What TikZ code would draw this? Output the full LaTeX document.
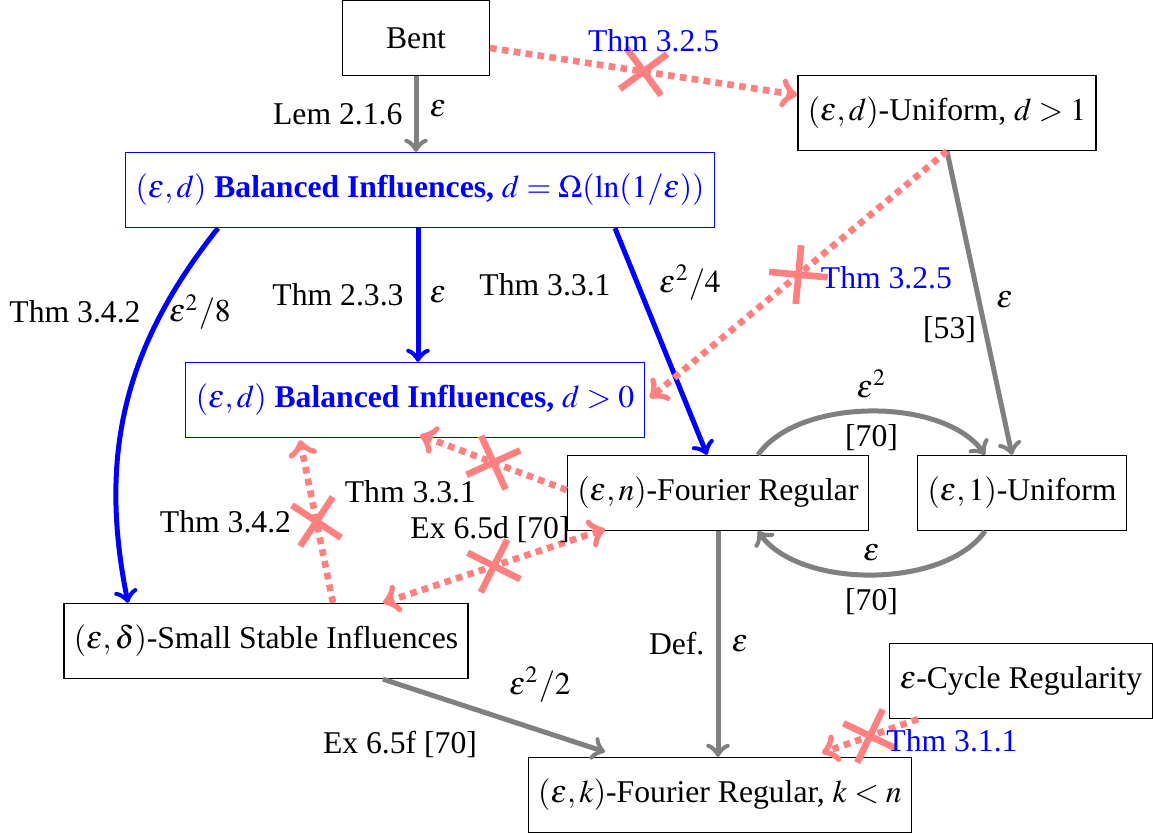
\documentclass[tikz,border=0pt]{standalone}
\usepackage{amsmath}
\usepackage{mathptmx}
\usepackage{fontspec}
\setmainfont{Liberation Serif}
\usepackage{tikz}
\usetikzlibrary{calc,shapes.misc}
\definecolor{lightred}{rgb}{1,0.5,0.5}

\begin{document}
\begin{tikzpicture}[x=0.3pt,y=0.3pt, font=\fontsize{9.5}{11}\selectfont,
  box/.style={draw, minimum height=22.5pt, inner xsep=3pt},
  bbox/.style={box, draw=blue, text=blue},
  imp/.style={->, line width=1.5pt, gray, every node/.style={text=black}},
  bimp/.style={->, line width=1.5pt, blue, every node/.style={text=black}},
  noimp/.style={->, line width=2pt, lightred, dash pattern=on 2pt off 1.6pt, every node/.style={text=black}},
  xmark/.style={cross out, draw=lightred, solid, line width=2pt, minimum size=10.5pt, inner sep=0pt, sloped}]
\useasboundingbox (0,0) rectangle (1153,-834);
% the boxes
\node[box, minimum width=44pt] (bent) at (416,-38) {Bent};
\node[box] (unid) at (947,-113) {$(\varepsilon,d)$-Uniform, $d>1$};
\node[bbox] (bal) at (420,-190) {$(\varepsilon,d)$ \textbf{Balanced Influences,} $d=\Omega(\ln(1/\varepsilon))$};
\node[bbox] (balz) at (415,-400) {$(\varepsilon,d)$ \textbf{Balanced Influences,} $d>0$};
\node[box] (fn) at (718,-493) {$(\varepsilon,n)$-Fourier Regular};
\node[box] (uone) at (1022,-493) {$(\varepsilon,1)$-Uniform};
\node[box] (ssi) at (266,-641) {$(\varepsilon,\delta)$-Small Stable Influences};
\node[box] (cyc) at (1021,-681) {$\varepsilon$-Cycle Regularity};
\node[box] (fk) at (720,-795) {$(\varepsilon,k)$-Fourier Regular, $k<n$};
% implications
\draw[imp] (bent.south) -- (bent.south |- bal.north)
  node[midway, left] {Lem 2.1.6} node[midway, shift={(22,5)}] {$\varepsilon$};
\draw[bimp] ($(bal.south)+(-2,0)$) -- ($(balz.north)+(3,0)$)
  node[midway, shift={(-80,0)}] {Thm 2.3.3} node[midway, shift={(20,0)}] {$\varepsilon$};
\draw[bimp] ($(bal.south)+(195,0)$) -- ($(fn.north)+(-11,0)$)
  node[midway, shift={(-116,57)}] {Thm 3.3.1} node[midway, shift={(29,59)}] {$\varepsilon^2/4$};
\draw[bimp] ($(bal.south)+(-202,0)$) to[bend right=25]
  node[pos=0, shift={(-143,-84)}] {Thm 3.4.2} node[pos=0, shift={(-18,-84)}] {$\varepsilon^2/8$}
  ($(ssi.north)+(-138,0)$);
\draw[imp] (unid.south) -- ($(uone.north)+(-10,0)$)
  node[midway, shift={(25,3)}] {$\varepsilon$} node[midway, shift={(-30,-27)}] {[53]};
\draw[imp] ($(fn.north)+(40,0)$) to[out=55, in=125, looseness=0.8]
  node[midway, above] {$\varepsilon^2$} node[midway, below] {[70]} ($(uone.north)+(-37,0)$);
\draw[imp] ($(uone.south)+(-37,0)$) to[out=-125, in=-55, looseness=0.8]
  node[midway, above] {$\varepsilon$} node[midway, below] {[70]} ($(fn.south)+(40,0)$);
\draw[imp] (fn.south) -- (fn.south |- fk.north)
  node[midway, left] {Def.} node[midway, right] {$\varepsilon$};
\draw[imp] ($(ssi.south)+(117,0)$) -- ($(fk.north)+(-115,5)$)
  node[midway, shift={(46,31)}] {$\varepsilon^2/2$} node[midway, shift={(-94,-29)}] {Ex 6.5f [70]};
% non-implications
\draw[noimp] ($(bent.east)+(0,-10)$) -- ($(unid.west)+(0,18)$)
  node[xmark, midway] {} node[midway, shift={(10,31)}, text=blue] {Thm 3.2.5};
\draw[noimp] (unid.south) -- ($(balz.east)+(5,2)$)
  node[xmark, midway] {} node[midway, shift={(88,-3)}, text=blue] {Thm 3.2.5};
\draw[noimp] ($(fn.west)+(0,3)$) -- ($(balz.south)+(5,3)$)
  node[xmark, midway] {} node[midway, shift={(-83,-29)}] {Thm 3.3.1};
\draw[noimp] ($(ssi.north)+(67,0)$) -- ($(balz.south)+(-115,-2)$)
  node[xmark, midway] {} node[midway, shift={(-91,0)}] {Thm 3.4.2};
\draw[noimp, <->] ($(ssi.north)+(117,0)$) -- ($(fn.south)+(-113,2)$)
  node[xmark, midway] {} node[midway, shift={(-4,36)}] {Ex 6.5d [70]};
\draw[noimp] ($(cyc.south)+(-103,0)$) -- ($(fk.north)+(102,4)$)
  node[xmark, midway] {} node[midway, shift={(82,-5)}, text=blue] {Thm 3.1.1};
\end{tikzpicture}
\end{document}
